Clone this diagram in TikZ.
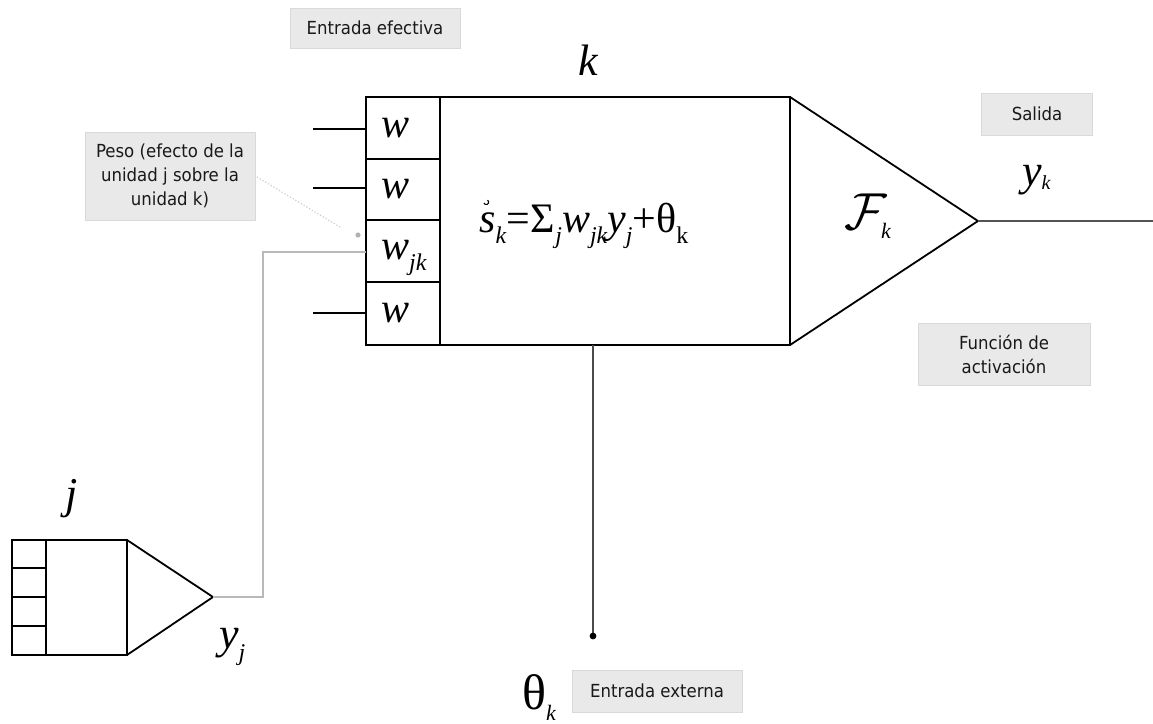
\documentclass[tikz,border=0pt]{standalone}
\usepackage{graphicx}
\usepackage{fontspec}
\newfontfamily\lab[FakeStretch=0.92]{DejaVu Sans}
\newfontfamily\tms{Liberation Serif}
\newcommand\sbk[1]{\raisebox{-0.28em}{\fontsize{24}{24}\selectfont\itshape #1}}
\newcommand\sbu[1]{\raisebox{-0.28em}{\fontsize{24}{24}\selectfont\upshape #1}}
\usetikzlibrary{calc}
\begin{document}
\begin{tikzpicture}[x=1pt,y=-1pt,
  thick line/.style={line width=1.8pt,black},
  thin line/.style={line width=1.1pt,black},
  grey line/.style={line width=1.6pt,gray!55},
  labelbox/.style={draw=gray!30,line width=1pt,fill=gray!17,text=black!90,font=\lab\fontsize{18}{24}\selectfont,align=center,inner sep=0pt},
  sym/.style={font=\tms\itshape\fontsize{44}{44}\selectfont,inner sep=0pt},
  symw/.style={font=\tms\itshape\fontsize{42}{42}\selectfont,inner sep=0pt}]
\useasboundingbox (0,0) rectangle (1153,723);
% main neuron k
\coordinate (kTL) at (366,97);
\coordinate (wR) at (440,97);
\coordinate (mTR) at (790,97);
\coordinate (mBR) at (790,345);
\coordinate (kTip) at (978,221);
\draw[thick line] (kTL) rectangle (mBR);
\draw[thick line] (wR) -- (440,345);
\draw[thick line] (366,159) -- (440,159);
\draw[thick line] (366,220) -- (440,220);
\draw[thick line] (366,282) -- (440,282);
\draw[thick line] (mTR) -- (kTip) -- (mBR);
\coordinate (outEnd) at (1153,221);
\draw[line width=1.3pt,gray!65!black] (kTip) -- (outEnd);
% weights
\node[symw,anchor=base west] (w1) at (381,137) {w};
\node[symw,anchor=base west] (w2) at (381,198) {w};
\node[symw,anchor=base west] (w3) at (381,259) {w\sbk{jk}};
\node[symw,anchor=base west] (w4) at (381,322) {w};
% inputs
\coordinate (i1) at (313,129); \coordinate (e1) at (366,129);
\coordinate (i2) at (313,188); \coordinate (e2) at (366,188);
\coordinate (e3) at (366,252);
\coordinate (i4) at (313,313); \coordinate (e4) at (366,313);
\draw[thin line] (i1) -- (e1);
\draw[thin line] (i2) -- (e2);
\draw[thin line] (i4) -- (e4);
% formula
\node[symw,anchor=base west] (formula) at (479,232) {s\sbk{k}\upshape{=}\kern1pt\upshape Σ\sbk{j}\itshape w\sbk{jk}y\sbk{j}\upshape{+}θ\sbu{k}};
\draw[line width=1.1pt] (484,203) arc (160:-60:2.4);
\node[inner sep=0pt,anchor=base west] (F) at (844,229) {\scalebox{5.2}{$\mathcal{F}$}};
\node[font=\tms\itshape\fontsize{22}{22}\selectfont,inner sep=0pt,anchor=base west] (Fk) at (881,238) {k};
\node[sym,anchor=base] (k) at (588,75) {k};
\node[sym,anchor=base west] (yk) at (1022,185) {y\raisebox{-0.1em}{\fontsize{20}{20}\selectfont k}};
% small neuron j
\draw[thick line] (12,540) rectangle (127,655);
\draw[thick line] (46,540) -- (46,655);
\draw[thick line] (12,568) -- (46,568);
\draw[thick line] (12,597) -- (46,597);
\draw[thick line] (12,626) -- (46,626);
\coordinate (jTip) at (213,597);
\draw[thick line] (127,540) -- (jTip) -- (127,655);
\draw[thin line] (127,540) -- (127,655);
\node[sym,anchor=base] (j) at (72,508) {j};
\node[sym,anchor=base west] (yj) at (219,648) {y\sbk{j}};
% connection j -> k
\draw[grey line] (jTip) -- (263,597) -- (263,252) -- (e3);
% external input
\coordinate (ext) at (593,345);
\coordinate (extEnd) at (593,636);
\draw[line width=1.2pt,gray!60!black] (ext) -- (extEnd);
\fill (extEnd) circle (3.4);
\node[font=\tms\fontsize{50}{50}\selectfont,inner sep=0pt,anchor=base west] (theta) at (522,709) {θ\raisebox{-0.22em}{\fontsize{22}{22}\selectfont\itshape k}};
% labels
\node[labelbox,minimum width=170,minimum height=40] (lEf) at (375,28) {Entrada efectiva};
\node[labelbox,minimum width=170,minimum height=88] (lPeso) at (170,176) {Peso (efecto de la\\unidad j sobre la\\unidad k)};
\node[labelbox,minimum width=111,minimum height=42] (lSal) at (1037,114) {Salida};
\node[labelbox,minimum width=172,minimum height=62] (lFun) at (1004,354) {Función de\\activación};
\node[labelbox,minimum width=170,minimum height=42] (lExt) at (657,691) {Entrada externa};
% pointer from Peso label
\coordinate (pdot) at (358,235);
\draw[gray!40,line width=1.2pt,dotted] (257,177) -- (340,227);
\fill[gray!60] (pdot) circle (2.6);
\end{tikzpicture}
\end{document}
